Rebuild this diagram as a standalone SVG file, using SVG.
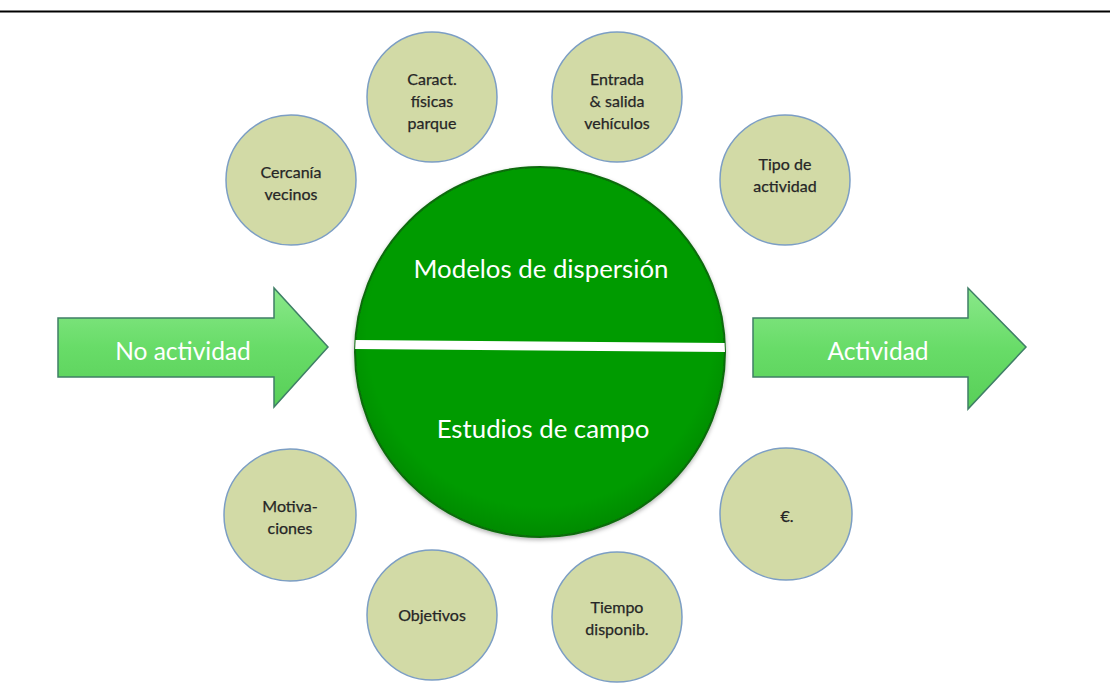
<svg xmlns="http://www.w3.org/2000/svg" width="1110" height="696" viewBox="0 0 1110 696">
<defs>
<style>
.small circle{fill:#d2daa6;stroke:#7c9ec4;stroke-width:1.5}
.st{font-family:Lato,"Open Sans","Liberation Sans",sans-serif;font-size:16px;fill:#262626;text-anchor:middle;stroke:#262626;stroke-width:0.25}
.arrow{fill:url(#ag);stroke:#3f7f66;stroke-width:1.5}
.at{font-family:Lato,"Open Sans","Liberation Sans",sans-serif;font-size:24.5px;fill:#fff;text-anchor:middle}
.bt{font-family:Lato,"Open Sans","Liberation Sans",sans-serif;font-size:25.8px;fill:#fff;text-anchor:middle}
</style>
<linearGradient id="ag" x1="0" y1="0" x2="0" y2="1">
<stop offset="0" stop-color="#8ae88a"/>
<stop offset="0.5" stop-color="#68dc68"/>
<stop offset="1" stop-color="#58cf58"/>
</linearGradient>
<radialGradient id="bg" cx="0.5" cy="0.45" r="0.55">
<stop offset="0.85" stop-color="#019b01"/>
<stop offset="1" stop-color="#018a01"/>
</radialGradient>
<clipPath id="bc"><circle cx="540" cy="352" r="185"/></clipPath>
<filter id="sh" x="-10%" y="-10%" width="120%" height="125%">
<feDropShadow dx="0" dy="2" stdDeviation="2" flood-color="#000" flood-opacity="0.3"/>
</filter>
</defs>
<rect width="1110" height="696" fill="#fff"/>
<line x1="0" y1="11.5" x2="1110" y2="11.5" stroke="#000" stroke-width="2"/>

<g id="no-actividad">
<polygon class="arrow" points="58,318 274,318 274,288 328,347 274,407 274,377 58,377"/>
<text class="at" x="183" y="360">No actividad</text>
</g>
<g id="actividad">
<polygon class="arrow" points="753,318 968,318 968,288 1026,347 968,409 968,377 753,377"/>
<text class="at" x="878" y="360">Actividad</text>
</g>

<g id="centro">
<circle cx="540" cy="352" r="185" fill="url(#bg)" stroke="#0b6b0b" stroke-width="2" filter="url(#sh)"/>
<polygon points="350,340 730,343 730,352 350,349" fill="#fff" clip-path="url(#bc)"/>
<text class="bt" x="541" y="278">Modelos de dispersión</text>
<text class="bt" x="543" y="438">Estudios de campo</text>
</g>

<g class="small">
<g id="cercania"><circle cx="291" cy="180" r="65"/><text class="st" x="291" y="178">Cercanía</text><text class="st" x="291" y="200">vecinos</text></g>
<g id="caract"><circle cx="432" cy="97" r="65"/><text class="st" x="432" y="85">Caract.</text><text class="st" x="432" y="107">físicas</text><text class="st" x="432" y="129">parque</text></g>
<g id="entrada"><circle cx="617" cy="97" r="65"/><text class="st" x="617" y="85">Entrada</text><text class="st" x="617" y="107">&amp; salida</text><text class="st" x="617" y="129">vehículos</text></g>
<g id="tipo"><circle cx="785" cy="180" r="65"/><text class="st" x="785" y="170">Tipo de</text><text class="st" x="785" y="192">actividad</text></g>
<g id="motivaciones"><circle cx="290" cy="515" r="66"/><text class="st" x="290" y="512">Motiva-</text><text class="st" x="290" y="534">ciones</text></g>
<g id="objetivos"><circle cx="432" cy="615" r="65"/><text class="st" x="432" y="621">Objetivos</text></g>
<g id="tiempo"><circle cx="617" cy="617" r="65"/><text class="st" x="617" y="613">Tiempo</text><text class="st" x="617" y="635">disponib.</text></g>
<g id="euro"><circle cx="786" cy="514" r="66"/><text class="st" x="787" y="522">€.</text></g>
</g>
</svg>
